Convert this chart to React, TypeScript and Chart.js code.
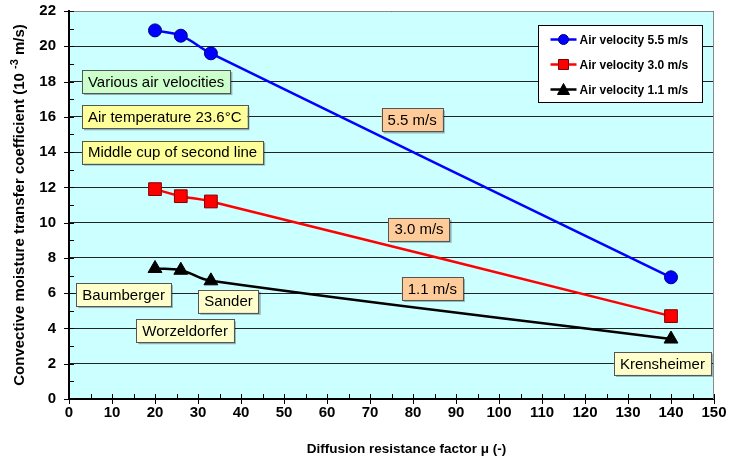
import React, { useEffect, useRef } from 'react';
import { Chart, registerables } from 'chart.js';

Chart.register(...registerables);

// ---- data ----
const muValues = [20, 26, 33, 140];
const velocity55 = [20.9, 20.6, 19.6, 6.9];
const velocity30 = [11.9, 11.5, 11.2, 4.7];
const velocity11 = [7.4, 7.3, 6.7, 3.4];
const seriesLabels = ['Air velocity 5.5 m/s', 'Air velocity 3.0 m/s', 'Air velocity 1.1 m/s'];
const xRange = [0, 150];
const xStep = 10;
const yRange = [0, 22];
const yStep = 2;
const xTitle = 'Diffusion resistance factor \u03bc (-)';
const yTitleParts = ['Convective moisture transfer coefficient (10 ', '-3', ' m/s)'];

// ---- text notes (anchored in data coordinates) ----
const notes = [
  { text: 'Various air velocities', x: 3.0, y: 18.0, align: 'left', fill: '#CCFFCC' },
  { text: 'Air temperature 23.6\u00b0C', x: 3.0, y: 16.0, align: 'left', fill: '#FFFF99' },
  { text: 'Middle cup of second line', x: 3.0, y: 14.0, align: 'left', fill: '#FFFF99' },
  { text: '5.5 m/s', x: 79.8, y: 15.82, align: 'center', fill: '#FFCC99' },
  { text: '3.0 m/s', x: 81.4, y: 9.62, align: 'center', fill: '#FFCC99' },
  { text: '1.1 m/s', x: 84.5, y: 6.27, align: 'center', fill: '#FFCC99' },
  { text: 'Baumberger', x: 12.7, y: 5.92, align: 'center', fill: '#FFFFCC' },
  { text: 'Sander', x: 37.1, y: 5.54, align: 'center', fill: '#FFFFCC' },
  { text: 'Worzeldorfer', x: 27.0, y: 3.87, align: 'center', fill: '#FFFFCC' },
  { text: 'Krensheimer', x: 138.0, y: 2.02, align: 'center', fill: '#FFFFCC' },
];

const FONT = '"Liberation Sans", Arial, Helvetica, sans-serif';

const seriesStyles = [
  { color: '#0000FF', marker: 'circle', edge: '#000080', radius: 6.5 },
  { color: '#FF0000', marker: 'rect', edge: '#800000', radius: 9 },
  { color: '#000000', marker: 'triangle', edge: '#000000', radius: 8 },
];

function drawMarker(ctx: CanvasRenderingContext2D, kind: string, x: number, y: number, fill: string, edge: string) {
  ctx.save();
  ctx.fillStyle = fill;
  ctx.strokeStyle = edge;
  ctx.lineWidth = 1;
  ctx.beginPath();
  if (kind === 'circle') {
    ctx.arc(x, y, 5, 0, Math.PI * 2);
  } else if (kind === 'rect') {
    ctx.rect(x - 5, y - 5, 10, 10);
  } else {
    ctx.moveTo(x, y - 6);
    ctx.lineTo(x + 6, y + 5);
    ctx.lineTo(x - 6, y + 5);
    ctx.closePath();
  }
  ctx.fill();
  ctx.stroke();
  ctx.restore();
}

const decorPlugin = {
  id: 'decor',
  beforeDraw(chart: any) {
    const { ctx, chartArea: a } = chart;
    ctx.save();
    ctx.fillStyle = '#CCFFFF';
    ctx.fillRect(a.left, a.top, a.right - a.left, a.bottom - a.top);
    ctx.restore();
  },
  beforeDatasetsDraw(chart: any) {
    const { ctx, chartArea: a, scales } = chart;
    const xs = scales.x;
    const ys = scales.y;
    ctx.save();
    // top & right frame
    ctx.strokeStyle = '#8a8a8a';
    ctx.lineWidth = 1;
    ctx.beginPath();
    ctx.moveTo(a.left, a.top + 0.5);
    ctx.lineTo(a.right - 0.5, a.top + 0.5);
    ctx.lineTo(a.right - 0.5, a.bottom);
    ctx.stroke();

    // tick marks
    ctx.strokeStyle = '#000';
    ctx.lineWidth = 1;
    ctx.beginPath();
    for (let v = xRange[0]; v <= xRange[1] + 1e-6; v += xStep / 2) {
      const px = Math.round(xs.getPixelForValue(v)) + 0.5;
      const major = Math.abs(v / xStep - Math.round(v / xStep)) < 1e-6;
      ctx.moveTo(px, a.bottom - 5);
      ctx.lineTo(px, a.bottom + (major ? 5 : 0));
    }
    for (let v = yRange[0]; v <= yRange[1] + 1e-6; v += yStep / 2) {
      const py = Math.round(ys.getPixelForValue(v)) + 0.5;
      const major = Math.abs(v / yStep - Math.round(v / yStep)) < 1e-6;
      ctx.moveTo(a.left - (major ? 5 : 0), py);
      ctx.lineTo(a.left + 5, py);
    }
    ctx.stroke();

    // notes
    ctx.font = `15px ${FONT}`;
    ctx.textBaseline = 'middle';
    for (const n of notes) {
      const w = ctx.measureText(n.text).width + 12;
      const h = 23;
      const px = xs.getPixelForValue(n.x);
      const py = ys.getPixelForValue(n.y);
      const left = n.align === 'left' ? px : px - w / 2;
      const top = py - h / 2;
      ctx.fillStyle = 'rgba(0,0,0,0.3)';
      ctx.fillRect(left + 2, top + 2, w, h);
      ctx.fillStyle = n.fill;
      ctx.fillRect(left, top, w, h);
      ctx.strokeStyle = '#555';
      ctx.lineWidth = 1;
      ctx.strokeRect(Math.round(left) + 0.5, Math.round(top) + 0.5, Math.round(w), Math.round(h));
      ctx.fillStyle = '#000';
      ctx.textAlign = 'left';
      ctx.fillText(n.text, left + 6, py + 1);
    }
    ctx.restore();
  },
  afterDatasetsDraw(chart: any) {
    const { ctx, chartArea: a } = chart;
    ctx.save();
    const bw = 164;
    const bh = 77;
    const left = Math.round(a.right - 176) + 0.5;
    const top = Math.round(a.top + 14) + 0.5;
    ctx.fillStyle = '#FFFFFF';
    ctx.fillRect(left, top, bw, bh);
    ctx.strokeStyle = '#000';
    ctx.lineWidth = 1;
    ctx.strokeRect(left, top, bw, bh);
    ctx.font = `bold 12px ${FONT}`;
    ctx.textBaseline = 'middle';
    ctx.textAlign = 'left';
    seriesLabels.forEach((label, i) => {
      const s = seriesStyles[i];
      const cy = top + 14 + i * 25;
      ctx.strokeStyle = s.color;
      ctx.lineWidth = 2.5;
      ctx.beginPath();
      ctx.moveTo(left + 12, cy);
      ctx.lineTo(left + 38, cy);
      ctx.stroke();
      drawMarker(ctx, s.marker, left + 25, cy, s.color, s.edge);
      ctx.fillStyle = '#000';
      ctx.fillText(label, left + 41, cy + 1);
    });

    // x axis title
    ctx.font = `bold 13.5px ${FONT}`;
    ctx.textAlign = 'center';
    ctx.textBaseline = 'middle';
    ctx.fillStyle = '#000';
    ctx.fillText(xTitle, (a.left + a.right) / 2 + 15, a.bottom + 50);

    // y axis title with superscript
    const mainFont = `bold 15px ${FONT}`;
    const supFont = `bold 11px ${FONT}`;
    ctx.font = mainFont;
    const w0 = ctx.measureText(yTitleParts[0]).width;
    const w2 = ctx.measureText(yTitleParts[2]).width;
    ctx.font = supFont;
    const w1 = ctx.measureText(yTitleParts[1]).width;
    const total = w0 + w1 + w2;
    const cx = 20;
    const cy = (a.top + a.bottom) / 2;
    ctx.translate(cx, cy);
    ctx.rotate(-Math.PI / 2);
    ctx.textAlign = 'left';
    ctx.textBaseline = 'middle';
    let x = -total / 2;
    ctx.font = mainFont;
    ctx.fillText(yTitleParts[0], x, 0);
    x += w0;
    ctx.font = supFont;
    ctx.fillText(yTitleParts[1], x, -5);
    x += w1;
    ctx.font = mainFont;
    ctx.fillText(yTitleParts[2], x, 0);
    ctx.restore();
  },
};

function makeSeries(values: number[], i: number) {
  const s = seriesStyles[i];
  return {
    label: seriesLabels[i],
    data: muValues.map((x, k) => ({ x, y: values[k] })),
    showLine: true,
    borderColor: s.color,
    backgroundColor: s.color,
    pointBackgroundColor: s.color,
    pointBorderColor: s.edge,
    pointBorderWidth: 1,
    pointStyle: s.marker,
    pointRadius: s.radius,
    borderWidth: 2.5,
    tension: 0.4,
    fill: false,
  };
}

export default function App() {
  const ref = useRef<HTMLCanvasElement | null>(null);
  useEffect(() => {
    if (!ref.current) return;
    const chart = new Chart(ref.current, {
      type: 'scatter',
      data: {
        datasets: [makeSeries(velocity55, 0), makeSeries(velocity30, 1), makeSeries(velocity11, 2)],
      },
      options: {
        animation: false,
        responsive: false,
        devicePixelRatio: 1,
        layout: { padding: { top: 11, right: 17, left: 0, bottom: 0 } },
        plugins: { legend: { display: false }, tooltip: { enabled: false } },
        scales: {
          x: {
            type: 'linear',
            min: xRange[0],
            max: xRange[1],
            ticks: {
              stepSize: xStep,
              color: '#000',
              font: { size: 15, weight: 'bold', family: FONT },
              padding: 5,
              maxRotation: 0,
              autoSkip: false,
            },
            grid: { drawOnChartArea: false, drawTicks: false },
            border: { color: '#000', width: 2 },
            title: { display: false },
            afterFit(s: any) {
              s.height = 65;
              s.paddingLeft = 0;
              s.paddingRight = 0;
            },
          },
          y: {
            type: 'linear',
            min: yRange[0],
            max: yRange[1],
            ticks: {
              stepSize: yStep,
              color: '#000',
              font: { size: 15, weight: 'bold', family: FONT },
              padding: 13,
            },
            grid: { color: '#222', lineWidth: 1, drawTicks: false },
            border: { color: '#000', width: 2 },
            title: { display: false },
            afterFit(s: any) {
              s.width = 69;
              s.paddingTop = 0;
              s.paddingBottom = 0;
            },
          },
        },
      },
      plugins: [decorPlugin],
    } as any);
    return () => chart.destroy();
  }, []);
  return (
    <div style={{ position: 'absolute', left: 0, top: 0, width: 731, height: 464, background: '#fff' }}>
      <canvas ref={ref} width={731} height={464} style={{ display: 'block' }} />
    </div>
  );
}
